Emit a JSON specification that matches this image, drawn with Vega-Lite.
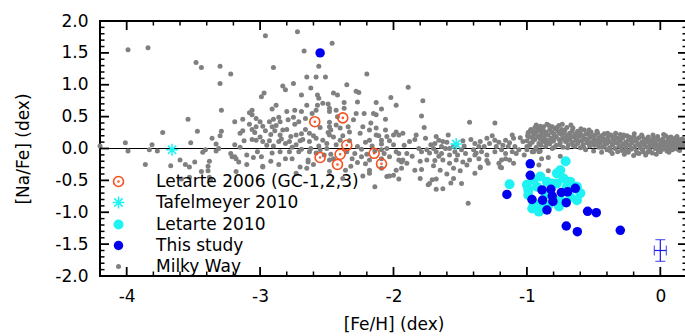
{
"$schema":"https://vega.github.io/schema/vega-lite/v6.json",
"width":587,"height":255,
"autosize":{"type":"none"},
"padding":{"left":100,"top":21,"right":0,"bottom":60},
"config":{
 "view":{"stroke":"#000","strokeWidth":2},
 "font":"DejaVu Sans",
 "axis":{"domain":false,"grid":false,"ticks":false,"labelFont":"DejaVu Sans","labelFontSize":17,"labelColor":"#000","titleFont":"DejaVu Sans","titleFontSize":17,"titleFontWeight":"normal","titleColor":"#000"},
 "legend":{"labelFont":"DejaVu Sans","labelFontSize":17,"labelColor":"#000"}
},
"datasets":{
 "xmaj":[{"v":-4},{"v":-3},{"v":-2},{"v":-1},{"v":0}],
 "xmin":[{"v":-3.8},{"v":-3.6},{"v":-3.4},{"v":-3.2},{"v":-2.8},{"v":-2.6},{"v":-2.4},{"v":-2.2},{"v":-1.8},{"v":-1.6},{"v":-1.4},{"v":-1.2},{"v":-0.8},{"v":-0.6},{"v":-0.4},{"v":-0.2}],
 "ymaj":[{"v":-1.5},{"v":-1},{"v":-0.5},{"v":0},{"v":0.5},{"v":1},{"v":1.5}],
 "ymin":[{"v":-1.9},{"v":-1.8},{"v":-1.7},{"v":-1.6},{"v":-1.4},{"v":-1.3},{"v":-1.2},{"v":-1.1},{"v":-0.9},{"v":-0.8},{"v":-0.7},{"v":-0.6},{"v":-0.4},{"v":-0.3},{"v":-0.2},{"v":-0.1},{"v":0.1},{"v":0.2},{"v":0.3},{"v":0.4},{"v":0.6},{"v":0.7},{"v":0.8},{"v":0.9},{"v":1.1},{"v":1.2},{"v":1.3},{"v":1.4},{"v":1.6},{"v":1.7},{"v":1.8},{"v":1.9}],
 "pts":[
{"s":"Milky Way","x":-3.99,"y":1.55},{"s":"Milky Way","x":-3.84,"y":1.58},{"s":"Milky Way","x":-2.96,"y":1.77},{"s":"Milky Way","x":-2.72,"y":1.83},{"s":"Milky Way","x":-2.67,"y":1.53},{"s":"Milky Way","x":-2.46,"y":1.65},{"s":"Milky Way","x":-3.48,"y":1.35},{"s":"Milky Way","x":-3.44,"y":1.27},{"s":"Milky Way","x":-3.3,"y":1.29},{"s":"Milky Way","x":-3.3,"y":1.02},{"s":"Milky Way","x":-3.29,"y":0.6},{"s":"Milky Way","x":-3.54,"y":0.46},{"s":"Milky Way","x":-3.73,"y":0.25},{"s":"Milky Way","x":-3.47,"y":0.27},{"s":"Milky Way","x":-3.22,"y":1.17},
{"s":"Milky Way","x":-4.2,"y":0.04},{"s":"Milky Way","x":-4.01,"y":0.09},{"s":"Milky Way","x":-3.99,"y":-0.04},{"s":"Milky Way","x":-3.81,"y":0.06},{"s":"Milky Way","x":-3.83,"y":-0.02},{"s":"Milky Way","x":-3.77,"y":-0.04},{"s":"Milky Way","x":-3.86,"y":-0.25},{"s":"Milky Way","x":-3.6,"y":-0.18},{"s":"Milky Way","x":-3.56,"y":-0.25},{"s":"Milky Way","x":-3.53,"y":-0.29},{"s":"Milky Way","x":-3.49,"y":-0.21},{"s":"Milky Way","x":-3.52,"y":0.09},{"s":"Milky Way","x":-3.41,"y":-0.02},{"s":"Milky Way","x":-3.43,"y":-0.06},{"s":"Milky Way","x":-3.44,"y":-0.36},{"s":"Milky Way","x":-3.39,"y":-0.28},{"s":"Milky Way","x":-3.38,"y":-0.2},{"s":"Milky Way","x":-3.36,"y":0.16},{"s":"Milky Way","x":-3.33,"y":0.07},{"s":"Milky Way","x":-3.29,"y":0.27},{"s":"Milky Way","x":-3.3,"y":0.2},{"s":"Milky Way","x":-3.33,"y":-0.04},{"s":"Milky Way","x":-3.31,"y":0.0},{"s":"Milky Way","x":-3.22,"y":-0.08},{"s":"Milky Way","x":-3.19,"y":-0.13},{"s":"Milky Way","x":-3.16,"y":-0.21},{"s":"Milky Way","x":-3.18,"y":-0.36},{"s":"Milky Way","x":-3.53,"y":-0.45},{"s":"Milky Way","x":-3.38,"y":-0.45},{"s":"Milky Way","x":-3.67,"y":-0.27},{"s":"Milky Way","x":-3.59,"y":-0.48},{"s":"Milky Way","x":-3.39,"y":-0.35},{"s":"Milky Way","x":-3.37,"y":-0.49},{"s":"Milky Way","x":-3.1,"y":-0.25},{"s":"Milky Way","x":-2.98,"y":-0.28},
{"s":"Milky Way","x":-2.9,"y":1.27},{"s":"Milky Way","x":-2.56,"y":1.29},{"s":"Milky Way","x":-2.2,"y":1.17},{"s":"Milky Way","x":-2.58,"y":1.12},{"s":"Milky Way","x":-2.51,"y":1.12},{"s":"Milky Way","x":-2.65,"y":1.12},{"s":"Milky Way","x":-2.75,"y":1.02},{"s":"Milky Way","x":-2.83,"y":0.98},{"s":"Milky Way","x":-2.81,"y":0.92},{"s":"Milky Way","x":-2.97,"y":0.87},{"s":"Milky Way","x":-2.99,"y":0.81},{"s":"Milky Way","x":-2.69,"y":0.84},{"s":"Milky Way","x":-2.57,"y":0.84},{"s":"Milky Way","x":-2.56,"y":0.79},{"s":"Milky Way","x":-2.28,"y":0.9},{"s":"Milky Way","x":-2.26,"y":0.88},{"s":"Milky Way","x":-2.45,"y":0.87},{"s":"Milky Way","x":-2.42,"y":0.84},{"s":"Milky Way","x":-2.27,"y":0.73},{"s":"Milky Way","x":-2.13,"y":0.72},{"s":"Milky Way","x":-2.02,"y":0.8},{"s":"Milky Way","x":-2.53,"y":0.71},{"s":"Milky Way","x":-2.49,"y":0.7},{"s":"Milky Way","x":-2.48,"y":0.63},{"s":"Milky Way","x":-2.57,"y":0.68},{"s":"Milky Way","x":-2.58,"y":0.6},{"s":"Milky Way","x":-2.48,"y":0.58},{"s":"Milky Way","x":-2.37,"y":0.72},{"s":"Milky Way","x":-2.37,"y":0.63},{"s":"Milky Way","x":-2.15,"y":0.55},{"s":"Milky Way","x":-2.13,"y":0.53},{"s":"Milky Way","x":-2.28,"y":0.55},{"s":"Milky Way","x":-2.61,"y":0.55},{"s":"Milky Way","x":-2.69,"y":0.58},{"s":"Milky Way","x":-2.74,"y":0.6},{"s":"Milky Way","x":-2.8,"y":0.58},{"s":"Milky Way","x":-2.91,"y":0.62},{"s":"Milky Way","x":-3.06,"y":0.6},{"s":"Milky Way","x":-3.08,"y":0.56},{"s":"Milky Way","x":-3.06,"y":0.53},{"s":"Milky Way","x":-3.19,"y":0.42},{"s":"Milky Way","x":-3.13,"y":0.46},{"s":"Milky Way","x":-3.03,"y":0.47},{"s":"Milky Way","x":-3.0,"y":0.42},{"s":"Milky Way","x":-2.93,"y":0.42},{"s":"Milky Way","x":-2.9,"y":0.46},{"s":"Milky Way","x":-2.86,"y":0.49},{"s":"Milky Way","x":-2.85,"y":0.42},{"s":"Milky Way","x":-2.79,"y":0.45},{"s":"Milky Way","x":-2.75,"y":0.49},{"s":"Milky Way","x":-2.71,"y":0.42},{"s":"Milky Way","x":-2.66,"y":0.47},{"s":"Milky Way","x":-2.48,"y":0.41},{"s":"Milky Way","x":-2.48,"y":0.34},{"s":"Milky Way","x":-2.47,"y":0.29},{"s":"Milky Way","x":-2.49,"y":0.25},{"s":"Milky Way","x":-2.43,"y":0.37},{"s":"Milky Way","x":-2.4,"y":0.32},{"s":"Milky Way","x":-2.34,"y":0.34},{"s":"Milky Way","x":-2.23,"y":0.34},{"s":"Milky Way","x":-2.18,"y":0.29},{"s":"Milky Way","x":-2.13,"y":0.32},{"s":"Milky Way","x":-2.06,"y":0.29},{"s":"Milky Way","x":-2.05,"y":0.19},{"s":"Milky Way","x":-2.0,"y":0.21},{"s":"Milky Way","x":-1.98,"y":0.26},{"s":"Milky Way","x":-2.13,"y":0.21},{"s":"Milky Way","x":-2.18,"y":0.13},{"s":"Milky Way","x":-2.16,"y":0.04},{"s":"Milky Way","x":-2.09,"y":0.13},{"s":"Milky Way","x":-2.09,"y":0.07},{"s":"Milky Way","x":-2.0,"y":0.06},
{"s":"Milky Way","x":-3.13,"y":0.28},{"s":"Milky Way","x":-3.15,"y":0.24},{"s":"Milky Way","x":-3.06,"y":0.3},{"s":"Milky Way","x":-3.03,"y":0.34},{"s":"Milky Way","x":-3.04,"y":0.25},{"s":"Milky Way","x":-2.98,"y":0.35},{"s":"Milky Way","x":-2.96,"y":0.28},{"s":"Milky Way","x":-2.91,"y":0.34},{"s":"Milky Way","x":-2.89,"y":0.28},{"s":"Milky Way","x":-2.85,"y":0.21},{"s":"Milky Way","x":-2.83,"y":0.29},{"s":"Milky Way","x":-2.77,"y":0.19},{"s":"Milky Way","x":-2.73,"y":0.21},{"s":"Milky Way","x":-2.69,"y":0.23},{"s":"Milky Way","x":-2.68,"y":0.14},{"s":"Milky Way","x":-2.63,"y":0.24},{"s":"Milky Way","x":-2.58,"y":0.16},{"s":"Milky Way","x":-2.53,"y":0.13},{"s":"Milky Way","x":-2.48,"y":0.21},{"s":"Milky Way","x":-3.06,"y":0.14},{"s":"Milky Way","x":-3.03,"y":0.13},{"s":"Milky Way","x":-2.98,"y":0.11},{"s":"Milky Way","x":-2.93,"y":0.12},{"s":"Milky Way","x":-2.9,"y":0.04},{"s":"Milky Way","x":-2.86,"y":0.11},{"s":"Milky Way","x":-2.81,"y":0.08},{"s":"Milky Way","x":-2.78,"y":0.11},{"s":"Milky Way","x":-2.73,"y":0.06},{"s":"Milky Way","x":-2.63,"y":0.11},{"s":"Milky Way","x":-2.56,"y":0.04},{"s":"Milky Way","x":-2.5,"y":0.08},{"s":"Milky Way","x":-2.43,"y":0.06},{"s":"Milky Way","x":-2.4,"y":0.13},{"s":"Milky Way","x":-3.19,"y":0.06},{"s":"Milky Way","x":-3.15,"y":0.02},{"s":"Milky Way","x":-3.21,"y":-0.13},{"s":"Milky Way","x":-3.18,"y":-0.16},{"s":"Milky Way","x":-3.1,"y":-0.1},{"s":"Milky Way","x":-3.05,"y":-0.14},{"s":"Milky Way","x":-2.99,"y":-0.13},{"s":"Milky Way","x":-2.98,"y":-0.29},{"s":"Milky Way","x":-2.91,"y":-0.07},{"s":"Milky Way","x":-2.85,"y":-0.05},{"s":"Milky Way","x":-2.81,"y":-0.16},{"s":"Milky Way","x":-2.76,"y":-0.16},{"s":"Milky Way","x":-2.71,"y":-0.05},{"s":"Milky Way","x":-2.69,"y":-0.01},{"s":"Milky Way","x":-2.63,"y":-0.05},{"s":"Milky Way","x":-2.64,"y":-0.18},{"s":"Milky Way","x":-2.58,"y":-0.07},{"s":"Milky Way","x":-2.5,"y":0.0},{"s":"Milky Way","x":-2.48,"y":-0.18},{"s":"Milky Way","x":-2.47,"y":-0.09},{"s":"Milky Way","x":-2.45,"y":-0.16},{"s":"Milky Way","x":-2.35,"y":-0.05},{"s":"Milky Way","x":-2.31,"y":-0.16},{"s":"Milky Way","x":-2.29,"y":-0.08},{"s":"Milky Way","x":-2.24,"y":-0.01},{"s":"Milky Way","x":-2.24,"y":-0.13},{"s":"Milky Way","x":-2.2,"y":-0.09},{"s":"Milky Way","x":-2.18,"y":-0.18},{"s":"Milky Way","x":-2.09,"y":-0.02},{"s":"Milky Way","x":-2.05,"y":0.0},{"s":"Milky Way","x":-2.03,"y":-0.13},{"s":"Milky Way","x":-1.98,"y":-0.05},{"s":"Milky Way","x":-1.96,"y":-0.18},{"s":"Milky Way","x":-2.18,"y":-0.34},{"s":"Milky Way","x":-2.05,"y":-0.44},{"s":"Milky Way","x":-2.0,"y":-0.42},{"s":"Milky Way","x":-2.36,"y":-0.34},{"s":"Milky Way","x":-2.38,"y":-0.47},{"s":"Milky Way","x":-2.48,"y":-0.36},{"s":"Milky Way","x":-2.7,"y":-0.29},{"s":"Milky Way","x":-2.65,"y":-0.31},{"s":"Milky Way","x":-2.73,"y":-0.39},{"s":"Milky Way","x":-2.06,"y":0.46},{"s":"Milky Way","x":-2.09,"y":0.62},{"s":"Milky Way","x":-1.98,"y":0.68},{"s":"Milky Way","x":-2.64,"y":-0.21},{"s":"Milky Way","x":-2.21,"y":-0.24},{"s":"Milky Way","x":-2.23,"y":-0.43},{"s":"Milky Way","x":-2.18,"y":-0.39},{"s":"Milky Way","x":-2.14,"y":-0.6},{"s":"Milky Way","x":-2.09,"y":-0.31},
{"s":"Milky Way","x":-3.12,"y":0.12},{"s":"Milky Way","x":-3.08,"y":0.38},{"s":"Milky Way","x":-3.0,"y":0.18},{"s":"Milky Way","x":-2.95,"y":0.05},{"s":"Milky Way","x":-2.92,"y":0.22},{"s":"Milky Way","x":-2.88,"y":0.36},{"s":"Milky Way","x":-2.84,"y":0.15},{"s":"Milky Way","x":-2.8,"y":0.3},{"s":"Milky Way","x":-2.76,"y":0.02},{"s":"Milky Way","x":-2.74,"y":0.38},{"s":"Milky Way","x":-2.7,"y":0.12},{"s":"Milky Way","x":-2.66,"y":0.3},{"s":"Milky Way","x":-2.62,"y":0.0},{"s":"Milky Way","x":-2.6,"y":0.2},{"s":"Milky Way","x":-2.55,"y":0.33},{"s":"Milky Way","x":-2.52,"y":-0.1},{"s":"Milky Way","x":-2.45,"y":0.18},{"s":"Milky Way","x":-2.42,"y":0.5},{"s":"Milky Way","x":-2.38,"y":0.2},{"s":"Milky Way","x":-2.33,"y":0.12},{"s":"Milky Way","x":-2.3,"y":0.45},{"s":"Milky Way","x":-2.27,"y":0.03},{"s":"Milky Way","x":-2.25,"y":0.24},{"s":"Milky Way","x":-2.21,"y":0.1},{"s":"Milky Way","x":-2.17,"y":0.4},{"s":"Milky Way","x":-2.14,"y":-0.04},{"s":"Milky Way","x":-2.11,"y":0.2},{"s":"Milky Way","x":-2.07,"y":-0.08},{"s":"Milky Way","x":-2.03,"y":0.12},{"s":"Milky Way","x":-2.32,"y":-0.28},{"s":"Milky Way","x":-2.27,"y":-0.22},{"s":"Milky Way","x":-2.6,"y":-0.25},{"s":"Milky Way","x":-2.86,"y":-0.25},{"s":"Milky Way","x":-2.92,"y":-0.2},{"s":"Milky Way","x":-3.02,"y":-0.05},{"s":"Milky Way","x":-2.78,"y":-0.05},{"s":"Milky Way","x":-2.55,"y":-0.02},{"s":"Milky Way","x":-2.33,"y":0.26},{"s":"Milky Way","x":-2.22,"y":0.55},{"s":"Milky Way","x":-2.43,"y":0.6},{"s":"Milky Way","x":-2.65,"y":0.68},{"s":"Milky Way","x":-2.88,"y":0.68},{"s":"Milky Way","x":-2.35,"y":1.0},{"s":"Milky Way","x":-2.62,"y":0.95},
{"s":"Milky Way","x":-1.89,"y":0.96},{"s":"Milky Way","x":-1.78,"y":0.75},{"s":"Milky Way","x":-1.79,"y":0.51},{"s":"Milky Way","x":-1.77,"y":0.33},{"s":"Milky Way","x":-1.43,"y":0.41},{"s":"Milky Way","x":-1.24,"y":0.4},{"s":"Milky Way","x":-1.96,"y":0.21},{"s":"Milky Way","x":-1.93,"y":0.24},{"s":"Milky Way","x":-1.88,"y":0.11},{"s":"Milky Way","x":-1.83,"y":0.21},{"s":"Milky Way","x":-1.76,"y":0.16},{"s":"Milky Way","x":-1.68,"y":0.19},{"s":"Milky Way","x":-1.66,"y":0.13},{"s":"Milky Way","x":-1.69,"y":0.08},{"s":"Milky Way","x":-1.63,"y":0.11},{"s":"Milky Way","x":-1.59,"y":0.21},{"s":"Milky Way","x":-1.48,"y":0.12},{"s":"Milky Way","x":-1.55,"y":0.03},{"s":"Milky Way","x":-1.81,"y":0.0},{"s":"Milky Way","x":-1.79,"y":-0.05},{"s":"Milky Way","x":-1.75,"y":-0.02},{"s":"Milky Way","x":-1.73,"y":-0.07},{"s":"Milky Way","x":-1.7,"y":0.0},{"s":"Milky Way","x":-1.68,"y":-0.05},{"s":"Milky Way","x":-1.64,"y":-0.08},{"s":"Milky Way","x":-1.61,"y":0.0},{"s":"Milky Way","x":-1.58,"y":-0.1},{"s":"Milky Way","x":-1.54,"y":-0.05},{"s":"Milky Way","x":-1.49,"y":-0.02},{"s":"Milky Way","x":-1.46,"y":-0.08},{"s":"Milky Way","x":-1.96,"y":-0.08},{"s":"Milky Way","x":-1.9,"y":-0.08},{"s":"Milky Way","x":-1.94,"y":-0.21},{"s":"Milky Way","x":-1.9,"y":-0.23},{"s":"Milky Way","x":-1.98,"y":-0.34},{"s":"Milky Way","x":-1.94,"y":-0.31},{"s":"Milky Way","x":-1.75,"y":-0.18},{"s":"Milky Way","x":-1.69,"y":-0.19},{"s":"Milky Way","x":-1.63,"y":-0.18},{"s":"Milky Way","x":-1.58,"y":-0.23},{"s":"Milky Way","x":-1.53,"y":-0.18},{"s":"Milky Way","x":-1.48,"y":-0.21},{"s":"Milky Way","x":-1.43,"y":-0.18},{"s":"Milky Way","x":-1.45,"y":-0.26},{"s":"Milky Way","x":-1.55,"y":-0.31},{"s":"Milky Way","x":-1.84,"y":-0.34},{"s":"Milky Way","x":-1.79,"y":-0.33},{"s":"Milky Way","x":-1.65,"y":-0.34},{"s":"Milky Way","x":-1.71,"y":-0.49},{"s":"Milky Way","x":-1.68,"y":-0.48},{"s":"Milky Way","x":-1.8,"y":-0.47},{"s":"Milky Way","x":-1.96,"y":-0.48},{"s":"Milky Way","x":-1.74,"y":-0.57},{"s":"Milky Way","x":-1.68,"y":-0.64},{"s":"Milky Way","x":-1.63,"y":-0.63},{"s":"Milky Way","x":-1.55,"y":-0.47},{"s":"Milky Way","x":-1.49,"y":-0.55},{"s":"Milky Way","x":-1.39,"y":-0.39},{"s":"Milky Way","x":-1.35,"y":-0.3},{"s":"Milky Way","x":-1.3,"y":-0.19},{"s":"Milky Way","x":-1.19,"y":-0.3},{"s":"Milky Way","x":-1.44,"y":-0.86},{"s":"Milky Way","x":-1.39,"y":0.08},{"s":"Milky Way","x":-1.35,"y":0.11},{"s":"Milky Way","x":-1.3,"y":0.16},{"s":"Milky Way","x":-1.26,"y":0.2},{"s":"Milky Way","x":-1.24,"y":0.13},{"s":"Milky Way","x":-1.23,"y":0.03},{"s":"Milky Way","x":-1.19,"y":-0.02},{"s":"Milky Way","x":-1.16,"y":0.13},{"s":"Milky Way","x":-1.11,"y":0.21},{"s":"Milky Way","x":-1.1,"y":0.16},{"s":"Milky Way","x":-1.14,"y":0.03},{"s":"Milky Way","x":-1.16,"y":-0.08},{"s":"Milky Way","x":-1.09,"y":0.03},{"s":"Milky Way","x":-1.06,"y":-0.02},{"s":"Milky Way","x":-1.03,"y":0.11},{"s":"Milky Way","x":-1.0,"y":0.03},{"s":"Milky Way","x":-0.99,"y":0.24},{"s":"Milky Way","x":-0.95,"y":0.26},{"s":"Milky Way","x":-0.93,"y":0.37},{"s":"Milky Way","x":-0.91,"y":0.19},{"s":"Milky Way","x":-0.89,"y":0.29},{"s":"Milky Way","x":-0.88,"y":0.13},{"s":"Milky Way","x":-0.91,"y":-0.05},{"s":"Milky Way","x":-0.95,"y":-0.05},{"s":"Milky Way","x":-0.89,"y":-0.16},{"s":"Milky Way","x":-1.11,"y":-0.05},{"s":"Milky Way","x":-1.19,"y":-0.18},{"s":"Milky Way","x":-1.13,"y":-0.18},{"s":"Milky Way","x":-1.24,"y":-0.05},{"s":"Milky Way","x":-1.34,"y":-0.05},{"s":"Milky Way","x":-1.36,"y":0.03},{"s":"Milky Way","x":-1.4,"y":-0.02},{"s":"Milky Way","x":-1.39,"y":-0.1},{"s":"Milky Way","x":-1.36,"y":-0.16},{"s":"Milky Way","x":-1.3,"y":-0.1},{"s":"Milky Way","x":-1.29,"y":-0.23},{"s":"Milky Way","x":-1.53,"y":0.06},{"s":"Milky Way","x":-1.58,"y":0.0},{"s":"Milky Way","x":-1.64,"y":0.03},
{"s":"Milky Way","x":-1.92,"y":0.05},{"s":"Milky Way","x":-1.86,"y":-0.12},{"s":"Milky Way","x":-1.84,"y":0.14},{"s":"Milky Way","x":-1.72,"y":0.06},{"s":"Milky Way","x":-1.66,"y":-0.12},{"s":"Milky Way","x":-1.6,"y":0.1},{"s":"Milky Way","x":-1.52,"y":-0.1},{"s":"Milky Way","x":-1.47,"y":0.04},{"s":"Milky Way","x":-1.42,"y":0.14},{"s":"Milky Way","x":-1.38,"y":-0.07},{"s":"Milky Way","x":-1.32,"y":0.03},{"s":"Milky Way","x":-1.28,"y":0.08},{"s":"Milky Way","x":-1.21,"y":0.1},{"s":"Milky Way","x":-1.18,"y":0.05},{"s":"Milky Way","x":-1.13,"y":0.09},{"s":"Milky Way","x":-1.08,"y":-0.08},{"s":"Milky Way","x":-1.05,"y":0.17},{"s":"Milky Way","x":-1.02,"y":-0.1},{"s":"Milky Way","x":-1.8,"y":-0.2},{"s":"Milky Way","x":-1.7,"y":-0.27},{"s":"Milky Way","x":-1.6,"y":-0.4},{"s":"Milky Way","x":-1.5,"y":-0.35},
{"s":"Milky Way","x":-2.09,"y":-0.16},{"s":"Milky Way","x":-1.93,"y":-0.18},{"s":"Milky Way","x":-2.03,"y":-0.43},{"s":"Milky Way","x":-1.73,"y":-0.55},{"s":"Milky Way","x":-1.57,"y":-0.54},{"s":"Milky Way","x":-1.21,"y":-0.23},{"s":"Milky Way","x":-1.1,"y":-0.23},{"s":"Milky Way","x":-1.16,"y":-0.16},{"s":"Milky Way","x":-1.2,"y":-0.29},{"s":"Milky Way","x":-0.91,"y":-0.26},{"s":"Milky Way","x":-0.84,"y":-0.35},{"s":"Milky Way","x":-0.71,"y":-0.48},{"s":"Milky Way","x":-0.75,"y":-0.12},{"s":"Milky Way","x":-0.84,"y":-0.14},{"s":"Milky Way","x":-1.35,"y":-0.29},
{"s":"Milky Way","x":-1.0,"y":0.12},{"s":"Milky Way","x":-1.0,"y":-0.02},{"s":"Milky Way","x":-0.99,"y":0.25},{"s":"Milky Way","x":-0.98,"y":0.05},{"s":"Milky Way","x":-0.98,"y":0.18},{"s":"Milky Way","x":-0.97,"y":0.3},{"s":"Milky Way","x":-0.96,"y":0.1},{"s":"Milky Way","x":-0.96,"y":-0.05},{"s":"Milky Way","x":-0.95,"y":0.22},{"s":"Milky Way","x":-0.94,"y":0.14},{"s":"Milky Way","x":-0.94,"y":0.33},{"s":"Milky Way","x":-0.93,"y":0.02},{"s":"Milky Way","x":-0.92,"y":0.19},{"s":"Milky Way","x":-0.92,"y":0.27},{"s":"Milky Way","x":-0.91,"y":0.08},{"s":"Milky Way","x":-0.9,"y":0.35},{"s":"Milky Way","x":-0.9,"y":0.15},{"s":"Milky Way","x":-0.9,"y":-0.04},{"s":"Milky Way","x":-0.89,"y":0.24},{"s":"Milky Way","x":-0.88,"y":0.11},{"s":"Milky Way","x":-0.88,"y":0.3},{"s":"Milky Way","x":-0.87,"y":0.18},{"s":"Milky Way","x":-0.86,"y":0.03},{"s":"Milky Way","x":-0.86,"y":0.26},{"s":"Milky Way","x":-0.85,"y":0.38},{"s":"Milky Way","x":-0.85,"y":0.13},{"s":"Milky Way","x":-0.84,"y":0.21},{"s":"Milky Way","x":-0.83,"y":0.07},{"s":"Milky Way","x":-0.83,"y":0.29},{"s":"Milky Way","x":-0.82,"y":0.16},{"s":"Milky Way","x":-0.81,"y":0.34},{"s":"Milky Way","x":-0.81,"y":0.0},{"s":"Milky Way","x":-0.8,"y":0.23},{"s":"Milky Way","x":-0.8,"y":0.12},{"s":"Milky Way","x":-0.79,"y":0.31},{"s":"Milky Way","x":-0.78,"y":0.05},{"s":"Milky Way","x":-0.78,"y":0.19},{"s":"Milky Way","x":-0.77,"y":0.27},{"s":"Milky Way","x":-0.76,"y":0.14},{"s":"Milky Way","x":-0.76,"y":0.36},{"s":"Milky Way","x":-0.75,"y":0.09},{"s":"Milky Way","x":-0.74,"y":0.22},{"s":"Milky Way","x":-0.74,"y":0.3},{"s":"Milky Way","x":-0.73,"y":0.02},{"s":"Milky Way","x":-0.72,"y":0.17},{"s":"Milky Way","x":-0.72,"y":0.25},{"s":"Milky Way","x":-0.71,"y":0.11},{"s":"Milky Way","x":-0.7,"y":0.33},{"s":"Milky Way","x":-0.7,"y":0.2},{"s":"Milky Way","x":-0.69,"y":0.06},{"s":"Milky Way","x":-0.68,"y":0.24},{"s":"Milky Way","x":-0.68,"y":0.15},{"s":"Milky Way","x":-0.67,"y":0.37},{"s":"Milky Way","x":-0.66,"y":0.1},{"s":"Milky Way","x":-0.66,"y":0.28},{"s":"Milky Way","x":-0.65,"y":0.18},{"s":"Milky Way","x":-0.64,"y":0.03},{"s":"Milky Way","x":-0.64,"y":0.22},{"s":"Milky Way","x":-0.63,"y":0.13},{"s":"Milky Way","x":-0.62,"y":0.27},{"s":"Milky Way","x":-0.62,"y":0.08},{"s":"Milky Way","x":-0.61,"y":0.19},{"s":"Milky Way","x":-0.6,"y":0.01},{"s":"Milky Way","x":-0.6,"y":0.24},{"s":"Milky Way","x":-0.59,"y":0.12},{"s":"Milky Way","x":-0.58,"y":0.2},{"s":"Milky Way","x":-0.58,"y":0.06},{"s":"Milky Way","x":-0.57,"y":0.29},{"s":"Milky Way","x":-0.56,"y":0.15},{"s":"Milky Way","x":-0.56,"y":-0.02},{"s":"Milky Way","x":-0.55,"y":0.09},{"s":"Milky Way","x":-0.54,"y":0.22},{"s":"Milky Way","x":-0.54,"y":0.14},{"s":"Milky Way","x":-0.53,"y":0.04},{"s":"Milky Way","x":-0.52,"y":0.18},{"s":"Milky Way","x":-0.52,"y":0.26},{"s":"Milky Way","x":-0.51,"y":0.1},{"s":"Milky Way","x":-0.5,"y":-0.04},{"s":"Milky Way","x":-0.5,"y":0.16},{"s":"Milky Way","x":-0.49,"y":0.21},{"s":"Milky Way","x":-0.48,"y":0.07},{"s":"Milky Way","x":-0.48,"y":0.13},{"s":"Milky Way","x":-0.47,"y":0.24},{"s":"Milky Way","x":-0.46,"y":0.02},{"s":"Milky Way","x":-0.46,"y":0.17},{"s":"Milky Way","x":-0.45,"y":0.09},{"s":"Milky Way","x":-0.44,"y":0.2},{"s":"Milky Way","x":-0.44,"y":-0.06},{"s":"Milky Way","x":-0.43,"y":0.12},{"s":"Milky Way","x":-0.42,"y":0.04},{"s":"Milky Way","x":-0.42,"y":0.23},{"s":"Milky Way","x":-0.41,"y":0.15},{"s":"Milky Way","x":-0.4,"y":-0.02},{"s":"Milky Way","x":-0.4,"y":0.08},{"s":"Milky Way","x":-0.39,"y":0.18},{"s":"Milky Way","x":-0.38,"y":0.11},{"s":"Milky Way","x":-0.38,"y":0.01},{"s":"Milky Way","x":-0.37,"y":0.21},{"s":"Milky Way","x":-0.36,"y":0.06},{"s":"Milky Way","x":-0.36,"y":-0.08},{"s":"Milky Way","x":-0.35,"y":0.14},{"s":"Milky Way","x":-0.34,"y":0.0},{"s":"Milky Way","x":-0.34,"y":0.19},{"s":"Milky Way","x":-0.33,"y":0.09},{"s":"Milky Way","x":-0.32,"y":-0.05},{"s":"Milky Way","x":-0.32,"y":0.16},{"s":"Milky Way","x":-0.31,"y":0.04},{"s":"Milky Way","x":-0.3,"y":0.12},{"s":"Milky Way","x":-0.3,"y":0.22},{"s":"Milky Way","x":-0.29,"y":-0.03},{"s":"Milky Way","x":-0.28,"y":0.07},{"s":"Milky Way","x":-0.28,"y":0.17},{"s":"Milky Way","x":-0.27,"y":-0.09},{"s":"Milky Way","x":-0.26,"y":0.1},{"s":"Milky Way","x":-0.26,"y":0.02},{"s":"Milky Way","x":-0.25,"y":0.2},{"s":"Milky Way","x":-0.24,"y":-0.06},{"s":"Milky Way","x":-0.24,"y":0.13},{"s":"Milky Way","x":-0.23,"y":0.05},{"s":"Milky Way","x":-0.22,"y":0.16},{"s":"Milky Way","x":-0.22,"y":-0.01},{"s":"Milky Way","x":-0.21,"y":0.09},{"s":"Milky Way","x":-0.2,"y":-0.11},{"s":"Milky Way","x":-0.2,"y":0.19},{"s":"Milky Way","x":-0.19,"y":0.03},{"s":"Milky Way","x":-0.18,"y":0.12},{"s":"Milky Way","x":-0.18,"y":-0.04},{"s":"Milky Way","x":-0.17,"y":0.07},{"s":"Milky Way","x":-0.16,"y":0.17},{"s":"Milky Way","x":-0.16,"y":-0.08},{"s":"Milky Way","x":-0.15,"y":0.01},{"s":"Milky Way","x":-0.14,"y":0.1},{"s":"Milky Way","x":-0.14,"y":0.21},{"s":"Milky Way","x":-0.13,"y":-0.05},{"s":"Milky Way","x":-0.12,"y":0.06},{"s":"Milky Way","x":-0.12,"y":0.14},{"s":"Milky Way","x":-0.11,"y":-0.1},{"s":"Milky Way","x":-0.1,"y":0.02},{"s":"Milky Way","x":-0.1,"y":0.11},{"s":"Milky Way","x":-0.09,"y":0.18},{"s":"Milky Way","x":-0.08,"y":-0.03},{"s":"Milky Way","x":-0.08,"y":0.08},{"s":"Milky Way","x":-0.07,"y":0.13},{"s":"Milky Way","x":-0.06,"y":-0.07},{"s":"Milky Way","x":-0.06,"y":0.04},{"s":"Milky Way","x":-0.05,"y":0.16},{"s":"Milky Way","x":-0.04,"y":0.0},{"s":"Milky Way","x":-0.04,"y":0.1},{"s":"Milky Way","x":-0.03,"y":-0.09},{"s":"Milky Way","x":-0.02,"y":0.06},{"s":"Milky Way","x":-0.02,"y":0.19},{"s":"Milky Way","x":-0.01,"y":0.02},{"s":"Milky Way","x":0.0,"y":0.12},{"s":"Milky Way","x":0.0,"y":-0.05},{"s":"Milky Way","x":0.01,"y":0.08},{"s":"Milky Way","x":0.02,"y":0.15},{"s":"Milky Way","x":0.02,"y":-0.01},{"s":"Milky Way","x":0.03,"y":0.05},{"s":"Milky Way","x":0.04,"y":0.2},{"s":"Milky Way","x":0.04,"y":0.1},{"s":"Milky Way","x":0.05,"y":-0.04},{"s":"Milky Way","x":0.06,"y":0.07},{"s":"Milky Way","x":0.06,"y":0.14},{"s":"Milky Way","x":0.07,"y":0.01},{"s":"Milky Way","x":0.08,"y":0.11},{"s":"Milky Way","x":0.08,"y":0.18},{"s":"Milky Way","x":0.09,"y":-0.02},{"s":"Milky Way","x":0.1,"y":0.09},{"s":"Milky Way","x":0.1,"y":0.04},{"s":"Milky Way","x":0.11,"y":0.16},{"s":"Milky Way","x":0.12,"y":0.06},{"s":"Milky Way","x":0.13,"y":0.12},{"s":"Milky Way","x":0.13,"y":-0.01},{"s":"Milky Way","x":0.14,"y":0.08},{"s":"Milky Way","x":0.15,"y":0.03},{"s":"Milky Way","x":0.15,"y":0.14},{"s":"Milky Way","x":0.16,"y":0.1},{"s":"Milky Way","x":0.17,"y":0.05},{"s":"Milky Way","x":0.18,"y":0.13},
{"s":"Milky Way","x":-0.995,"y":0.2},{"s":"Milky Way","x":-0.975,"y":0.08},{"s":"Milky Way","x":-0.975,"y":0.28},{"s":"Milky Way","x":-0.955,"y":0.16},{"s":"Milky Way","x":-0.935,"y":0.25},{"s":"Milky Way","x":-0.935,"y":-0.01},{"s":"Milky Way","x":-0.915,"y":0.31},{"s":"Milky Way","x":-0.895,"y":0.05},{"s":"Milky Way","x":-0.895,"y":0.2},{"s":"Milky Way","x":-0.875,"y":0.34},{"s":"Milky Way","x":-0.855,"y":0.09},{"s":"Milky Way","x":-0.855,"y":0.22},{"s":"Milky Way","x":-0.835,"y":0.36},{"s":"Milky Way","x":-0.815,"y":0.11},{"s":"Milky Way","x":-0.815,"y":0.26},{"s":"Milky Way","x":-0.795,"y":0.02},{"s":"Milky Way","x":-0.795,"y":0.17},{"s":"Milky Way","x":-0.775,"y":0.33},{"s":"Milky Way","x":-0.755,"y":0.06},{"s":"Milky Way","x":-0.755,"y":0.24},{"s":"Milky Way","x":-0.735,"y":0.15},{"s":"Milky Way","x":-0.735,"y":0.38},{"s":"Milky Way","x":-0.715,"y":0.29},{"s":"Milky Way","x":-0.695,"y":0.13},{"s":"Milky Way","x":-0.695,"y":0.01},{"s":"Milky Way","x":-0.675,"y":0.21},{"s":"Milky Way","x":-0.655,"y":0.32},{"s":"Milky Way","x":-0.655,"y":0.05},{"s":"Milky Way","x":-0.635,"y":0.17},{"s":"Milky Way","x":-0.615,"y":0.25},{"s":"Milky Way","x":-0.615,"y":0.11},{"s":"Milky Way","x":-0.595,"y":0.31},{"s":"Milky Way","x":-0.575,"y":0.14},{"s":"Milky Way","x":-0.575,"y":0.02},{"s":"Milky Way","x":-0.555,"y":0.23},{"s":"Milky Way","x":-0.535,"y":0.08},{"s":"Milky Way","x":-0.535,"y":0.29},{"s":"Milky Way","x":-0.515,"y":0.19},{"s":"Milky Way","x":-0.495,"y":0.05},{"s":"Milky Way","x":-0.495,"y":0.12},{"s":"Milky Way","x":-0.475,"y":0.27},{"s":"Milky Way","x":-0.455,"y":0.11},{"s":"Milky Way","x":-0.435,"y":0.18},{"s":"Milky Way","x":-0.435,"y":0.02},{"s":"Milky Way","x":-0.415,"y":0.09},{"s":"Milky Way","x":-0.395,"y":0.24},{"s":"Milky Way","x":-0.395,"y":0.13},{"s":"Milky Way","x":-0.375,"y":-0.04},{"s":"Milky Way","x":-0.355,"y":0.17},{"s":"Milky Way","x":-0.355,"y":0.07},{"s":"Milky Way","x":-0.335,"y":0.24},{"s":"Milky Way","x":-0.315,"y":0.1},{"s":"Milky Way","x":-0.295,"y":0.02},{"s":"Milky Way","x":-0.295,"y":0.15},{"s":"Milky Way","x":-0.275,"y":0.21},{"s":"Milky Way","x":-0.255,"y":-0.03},{"s":"Milky Way","x":-0.255,"y":0.07},{"s":"Milky Way","x":-0.235,"y":0.18},{"s":"Milky Way","x":-0.215,"y":0.0},{"s":"Milky Way","x":-0.215,"y":0.12},{"s":"Milky Way","x":-0.195,"y":0.23},{"s":"Milky Way","x":-0.175,"y":-0.07},{"s":"Milky Way","x":-0.175,"y":0.15},{"s":"Milky Way","x":-0.155,"y":0.05},{"s":"Milky Way","x":-0.135,"y":0.19},{"s":"Milky Way","x":-0.135,"y":-0.01},{"s":"Milky Way","x":-0.115,"y":0.09},{"s":"Milky Way","x":-0.095,"y":0.16},{"s":"Milky Way","x":-0.095,"y":-0.06},{"s":"Milky Way","x":-0.075,"y":0.04},{"s":"Milky Way","x":-0.055,"y":0.11},{"s":"Milky Way","x":-0.055,"y":0.21},{"s":"Milky Way","x":-0.035,"y":0.07},{"s":"Milky Way","x":-0.015,"y":-0.03},{"s":"Milky Way","x":-0.015,"y":0.14},{"s":"Milky Way","x":0.005,"y":0.04},{"s":"Milky Way","x":0.025,"y":0.1},{"s":"Milky Way","x":0.025,"y":0.22},{"s":"Milky Way","x":0.045,"y":0.02},{"s":"Milky Way","x":0.065,"y":0.17},{"s":"Milky Way","x":0.065,"y":-0.06},{"s":"Milky Way","x":0.085,"y":0.06},{"s":"Milky Way","x":0.105,"y":0.13},{"s":"Milky Way","x":0.105,"y":0.0},{"s":"Milky Way","x":0.125,"y":0.19},{"s":"Milky Way","x":0.145,"y":0.05},{"s":"Milky Way","x":0.145,"y":-0.03},{"s":"Milky Way","x":0.165,"y":0.15},{"s":"Milky Way","x":0.185,"y":0.08},{"s":"Milky Way","x":0.185,"y":0.02},
{"s":"Letarte 2006 (GC-1,2,3)","x":-2.59,"y":0.42},{"s":"Letarte 2006 (GC-1,2,3)","x":-2.38,"y":0.48},{"s":"Letarte 2006 (GC-1,2,3)","x":-2.35,"y":0.05},{"s":"Letarte 2006 (GC-1,2,3)","x":-2.55,"y":-0.14},{"s":"Letarte 2006 (GC-1,2,3)","x":-2.4,"y":-0.09},{"s":"Letarte 2006 (GC-1,2,3)","x":-2.42,"y":-0.25},{"s":"Letarte 2006 (GC-1,2,3)","x":-2.145,"y":-0.075},{"s":"Letarte 2006 (GC-1,2,3)","x":-2.09,"y":-0.24},
{"s":"Tafelmeyer 2010","x":-3.66,"y":-0.02},{"s":"Tafelmeyer 2010","x":-1.53,"y":0.07},
{"s":"Letarte 2010","x":-0.71,"y":-0.2},{"s":"Letarte 2010","x":-1.13,"y":-0.56},{"s":"Letarte 2010","x":-0.95,"y":-0.49},{"s":"Letarte 2010","x":-0.9,"y":-0.44},{"s":"Letarte 2010","x":-0.925,"y":-0.6},{"s":"Letarte 2010","x":-0.99,"y":-0.65},{"s":"Letarte 2010","x":-0.99,"y":-0.73},{"s":"Letarte 2010","x":-0.95,"y":-0.86},{"s":"Letarte 2010","x":-0.96,"y":-0.94},{"s":"Letarte 2010","x":-0.9,"y":-0.91},{"s":"Letarte 2010","x":-0.85,"y":-0.52},{"s":"Letarte 2010","x":-0.775,"y":-0.39},{"s":"Letarte 2010","x":-0.75,"y":-0.34},{"s":"Letarte 2010","x":-0.725,"y":-0.47},{"s":"Letarte 2010","x":-0.675,"y":-0.52},{"s":"Letarte 2010","x":-0.775,"y":-0.55},{"s":"Letarte 2010","x":-0.7,"y":-0.6},{"s":"Letarte 2010","x":-0.625,"y":-0.6},{"s":"Letarte 2010","x":-0.6,"y":-0.7},{"s":"Letarte 2010","x":-0.625,"y":-0.81},{"s":"Letarte 2010","x":-0.675,"y":-0.76},{"s":"Letarte 2010","x":-0.75,"y":-0.81},{"s":"Letarte 2010","x":-0.81,"y":-0.55},{"s":"Letarte 2010","x":-0.86,"y":-0.73},{"s":"Letarte 2010","x":-0.76,"y":-0.91},{"s":"Letarte 2010","x":-0.91,"y":-0.99},{"s":"Letarte 2010","x":-0.84,"y":-0.89},{"s":"Letarte 2010","x":-1.0,"y":-0.57},
{"s":"This study","x":-2.55,"y":1.5},{"s":"This study","x":-0.975,"y":-0.24},{"s":"This study","x":-0.975,"y":-0.42},{"s":"This study","x":-1.15,"y":-0.72},{"s":"This study","x":-0.887,"y":-0.65},{"s":"This study","x":-0.82,"y":-0.64},{"s":"This study","x":-0.962,"y":-0.8},{"s":"This study","x":-0.883,"y":-0.81},{"s":"This study","x":-0.81,"y":-0.745},{"s":"This study","x":-0.805,"y":-0.83},{"s":"This study","x":-0.742,"y":-0.69},{"s":"This study","x":-0.695,"y":-0.68},{"s":"This study","x":-0.637,"y":-0.625},{"s":"This study","x":-0.705,"y":-0.85},{"s":"This study","x":-0.85,"y":-0.965},{"s":"This study","x":-0.545,"y":-0.985},{"s":"This study","x":-0.48,"y":-1.007},{"s":"This study","x":-0.705,"y":-1.216},{"s":"This study","x":-0.622,"y":-1.305},{"s":"This study","x":-0.3,"y":-1.283}
 ],
 "eb":[{"ex":0,"ey":-1.6,"ylo":-1.77,"yhi":-1.43,"xlo":-0.045,"xhi":0.045}],
 "zero":[{"z":0}]
},
"layer":[
 {"data":{"name":"zero"},
  "mark":{"type":"rule","color":"#000","strokeWidth":1.2},
  "encoding":{
   "y":{"field":"z","type":"quantitative","scale":{"domain":[-2,2],"nice":false,"zero":false},"axis":null}
  }},
 {"data":{"name":"pts"},
  "mark":{"type":"point","filled":true,"opacity":1},
  "encoding":{
   "x":{"field":"x","type":"quantitative","scale":{"domain":[-4.2,0.2],"nice":false,"zero":false},
        "axis":{"orient":"bottom","values":[-4,-3,-2,-1,0],"labelPadding":12,"title":"[Fe/H] (dex)","titlePadding":12,"labelExpr":"replace(datum.label,'−','-')"}},
   "y":{"field":"y","type":"quantitative","scale":{"domain":[-2,2],"nice":false,"zero":false},
        "axis":{"orient":"left","values":[-2,-1.5,-1,-0.5,0,0.5,1,1.5,2],"format":".1f","labelPadding":12,"title":"[Na/Fe] (dex)","titlePadding":22,"labelExpr":"replace(datum.label,'−','-')"}},
   "shape":{"field":"s","type":"nominal","scale":{"type":"ordinal","domain":["Letarte 2006 (GC-1,2,3)","Tafelmeyer 2010","Letarte 2010","This study","Milky Way"],"range":["M-1,0A1,1 0 1,0 1,0A1,1 0 1,0 -1,0ZM-0.1,0A0.1,0.1 0 1,0 0.1,0A0.1,0.1 0 1,0 -0.1,0Z","M-1,0L1,0M0,-1L0,1M-0.7,-0.7L0.7,0.7M-0.7,0.7L0.7,-0.7","circle","circle","circle"]},
      "legend":{"orient":"none","legendX":10,"legendY":152,"title":null,"padding":0,"labelOffset":29,"rowPadding":3,"labelLimit":400}},
   "fill":{"field":"s","type":"nominal","scale":{"type":"ordinal","domain":["Letarte 2006 (GC-1,2,3)","Tafelmeyer 2010","Letarte 2010","This study","Milky Way"],"range":["transparent","transparent","#1ef2f2","#0000ee","#808080"]}},
   "stroke":{"field":"s","type":"nominal","scale":{"type":"ordinal","domain":["Letarte 2006 (GC-1,2,3)","Tafelmeyer 2010","Letarte 2010","This study","Milky Way"],"range":["#f5501e","#1ef2f2","#1ef2f2","#0000ee","#808080"]}},
   "strokeWidth":{"field":"s","type":"nominal","scale":{"type":"ordinal","domain":["Letarte 2006 (GC-1,2,3)","Tafelmeyer 2010","Letarte 2010","This study","Milky Way"],"range":[1.6,1.5,0,0,0]}},
   "size":{"field":"s","type":"nominal","scale":{"type":"ordinal","domain":["Letarte 2006 (GC-1,2,3)","Tafelmeyer 2010","Letarte 2010","This study","Milky Way"],"range":[100,140,100,90,25]}}
  }},
 {"data":{"name":"eb"},
  "mark":{"type":"errorbar","ticks":{"size":10,"color":"#1a1aee"},"color":"#1a1aee","thickness":1.2},
  "encoding":{
   "x":{"field":"ex","type":"quantitative","scale":{"domain":[-4.2,0.2],"nice":false,"zero":false},"axis":null},
   "y":{"field":"ylo","type":"quantitative","scale":{"domain":[-2,2],"nice":false,"zero":false},"axis":null},
   "y2":{"field":"yhi"}
  }},
 {"data":{"name":"eb"},
  "mark":{"type":"errorbar","ticks":{"size":10,"color":"#1a1aee"},"color":"#1a1aee","thickness":1.2},
  "encoding":{
   "x":{"field":"xlo","type":"quantitative","scale":{"domain":[-4.2,0.2],"nice":false,"zero":false},"axis":null},
   "x2":{"field":"xhi"},
   "y":{"field":"ey","type":"quantitative","scale":{"domain":[-2,2],"nice":false,"zero":false},"axis":null}
  }},
 {"data":{"name":"xmaj"},"mark":{"type":"tick","orient":"vertical","size":18,"thickness":1.8,"color":"#000","opacity":1,"clip":true},
  "encoding":{"x":{"field":"v","type":"quantitative","axis":null},"y":{"datum":-2,"type":"quantitative","axis":null}}},
 {"data":{"name":"xmaj"},"mark":{"type":"tick","orient":"vertical","size":18,"thickness":1.8,"color":"#000","opacity":1,"clip":true},
  "encoding":{"x":{"field":"v","type":"quantitative","axis":null},"y":{"datum":2,"type":"quantitative","axis":null}}},
 {"data":{"name":"xmin"},"mark":{"type":"tick","orient":"vertical","size":9,"thickness":1.5,"color":"#000","opacity":1,"clip":true},
  "encoding":{"x":{"field":"v","type":"quantitative","axis":null},"y":{"datum":-2,"type":"quantitative","axis":null}}},
 {"data":{"name":"xmin"},"mark":{"type":"tick","orient":"vertical","size":9,"thickness":1.5,"color":"#000","opacity":1,"clip":true},
  "encoding":{"x":{"field":"v","type":"quantitative","axis":null},"y":{"datum":2,"type":"quantitative","axis":null}}},
 {"data":{"name":"ymaj"},"mark":{"type":"tick","orient":"horizontal","size":18,"thickness":1.8,"color":"#000","opacity":1,"clip":true},
  "encoding":{"y":{"field":"v","type":"quantitative","axis":null},"x":{"datum":-4.2,"type":"quantitative","axis":null}}},
 {"data":{"name":"ymaj"},"mark":{"type":"tick","orient":"horizontal","size":18,"thickness":1.8,"color":"#000","opacity":1,"clip":true},
  "encoding":{"y":{"field":"v","type":"quantitative","axis":null},"x":{"datum":0.2,"type":"quantitative","axis":null}}},
 {"data":{"name":"ymin"},"mark":{"type":"tick","orient":"horizontal","size":9,"thickness":1.5,"color":"#000","opacity":1,"clip":true},
  "encoding":{"y":{"field":"v","type":"quantitative","axis":null},"x":{"datum":-4.2,"type":"quantitative","axis":null}}},
 {"data":{"name":"ymin"},"mark":{"type":"tick","orient":"horizontal","size":9,"thickness":1.5,"color":"#000","opacity":1,"clip":true},
  "encoding":{"y":{"field":"v","type":"quantitative","axis":null},"x":{"datum":0.2,"type":"quantitative","axis":null}}}
],
"resolve":{"axis":{"x":"independent","y":"independent"}}
}
